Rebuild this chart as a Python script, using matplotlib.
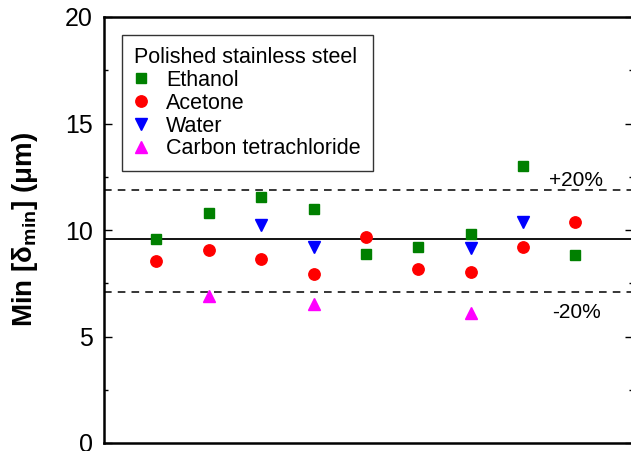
import matplotlib
matplotlib.use("Agg")
import matplotlib.pyplot as plt
from matplotlib.ticker import MultipleLocator

plt.rcParams["font.family"] = ["Liberation Sans", "DejaVu Sans"]
plt.rcParams["mathtext.fontset"] = "custom"
plt.rcParams["mathtext.rm"] = "Liberation Sans"
plt.rcParams["mathtext.bf"] = "Liberation Sans:bold"

# sample index along the x axis
samples = [1, 2, 3, 4, 5, 6, 7, 8, 9]
ethanol = [9.58, 10.81, 11.53, 10.99, 8.86, 9.20, 9.80, 13.0, 8.83]
acetone = [8.54, 9.06, 8.62, 7.92, 9.67, 8.15, 8.01, 9.22, 10.38]
water_x = [3, 4, 7, 8]
water = [10.23, 9.22, 9.14, 10.39]
ccl4_x = [2, 4, 7]
ccl4 = [6.92, 6.53, 6.09]

mean_val = 9.56
upper_val = 11.87
lower_val = 7.09

fig = plt.figure(figsize=(6.31, 4.51), dpi=100)
ax = fig.add_axes([104 / 631, 8 / 451, 529 / 631, 426 / 451])

ax.axhline(mean_val, color="black", lw=1.3, zorder=1)
ax.axhline(upper_val, color="black", lw=1.1, ls=(0, (5, 4)), zorder=1)
ax.axhline(lower_val, color="black", lw=1.1, ls=(0, (5, 4)), zorder=1)

ax.plot(samples, ethanol, ls="none", marker="s", ms=7, color="#008000",
        mec="#008000", label="Ethanol", zorder=3)
ax.plot(samples, acetone, ls="none", marker="o", ms=8.2, color="#ff0000",
        label="Acetone", zorder=3)
ax.plot(water_x, water, ls="none", marker="v", ms=8.5, color="#0000ff",
        label="Water", zorder=3)
ax.plot(ccl4_x, ccl4, ls="none", marker="^", ms=8.5, color="#ff00ff",
        label="Carbon tetrachloride", zorder=3)

ax.text(8.5, upper_val + 0.02, "+20%", fontsize=15, va="bottom")
ax.text(8.55, lower_val - 0.53, "-20%", fontsize=15, va="top")

ax.set_xlim(0, 10.1)
ax.set_ylim(0, 20)
ax.yaxis.set_major_locator(MultipleLocator(5))
ax.yaxis.set_minor_locator(MultipleLocator(2.5))
ax.tick_params(axis="y", which="both", direction="in", left=True, right=True,
               labelsize=18, width=1, pad=8)
ax.tick_params(axis="y", which="major", length=6)
ax.tick_params(axis="y", which="minor", length=3)
ax.tick_params(axis="x", bottom=False, labelbottom=False)
for side in ["left", "top", "bottom", "right"]:
    ax.spines[side].set_linewidth(1.8)

ax.set_ylabel(r"Min [$\mathbf{\delta}_{\mathbf{min}}$] ($\mathbf{\mu}$m)",
              fontsize=20, fontweight="bold", labelpad=18)

leg = ax.legend(title="Polished stainless steel", loc="upper left",
                bbox_to_anchor=(0.034, 0.958), fontsize=15.5, title_fontsize=15.5,
                alignment="left", frameon=True, fancybox=False, edgecolor="black",
                handletextpad=0.8, handlelength=0.7, borderpad=0.55,
                labelspacing=0.09, borderaxespad=0)
leg.get_frame().set_linewidth(1.0)

fig.savefig("out.png", dpi=100)
